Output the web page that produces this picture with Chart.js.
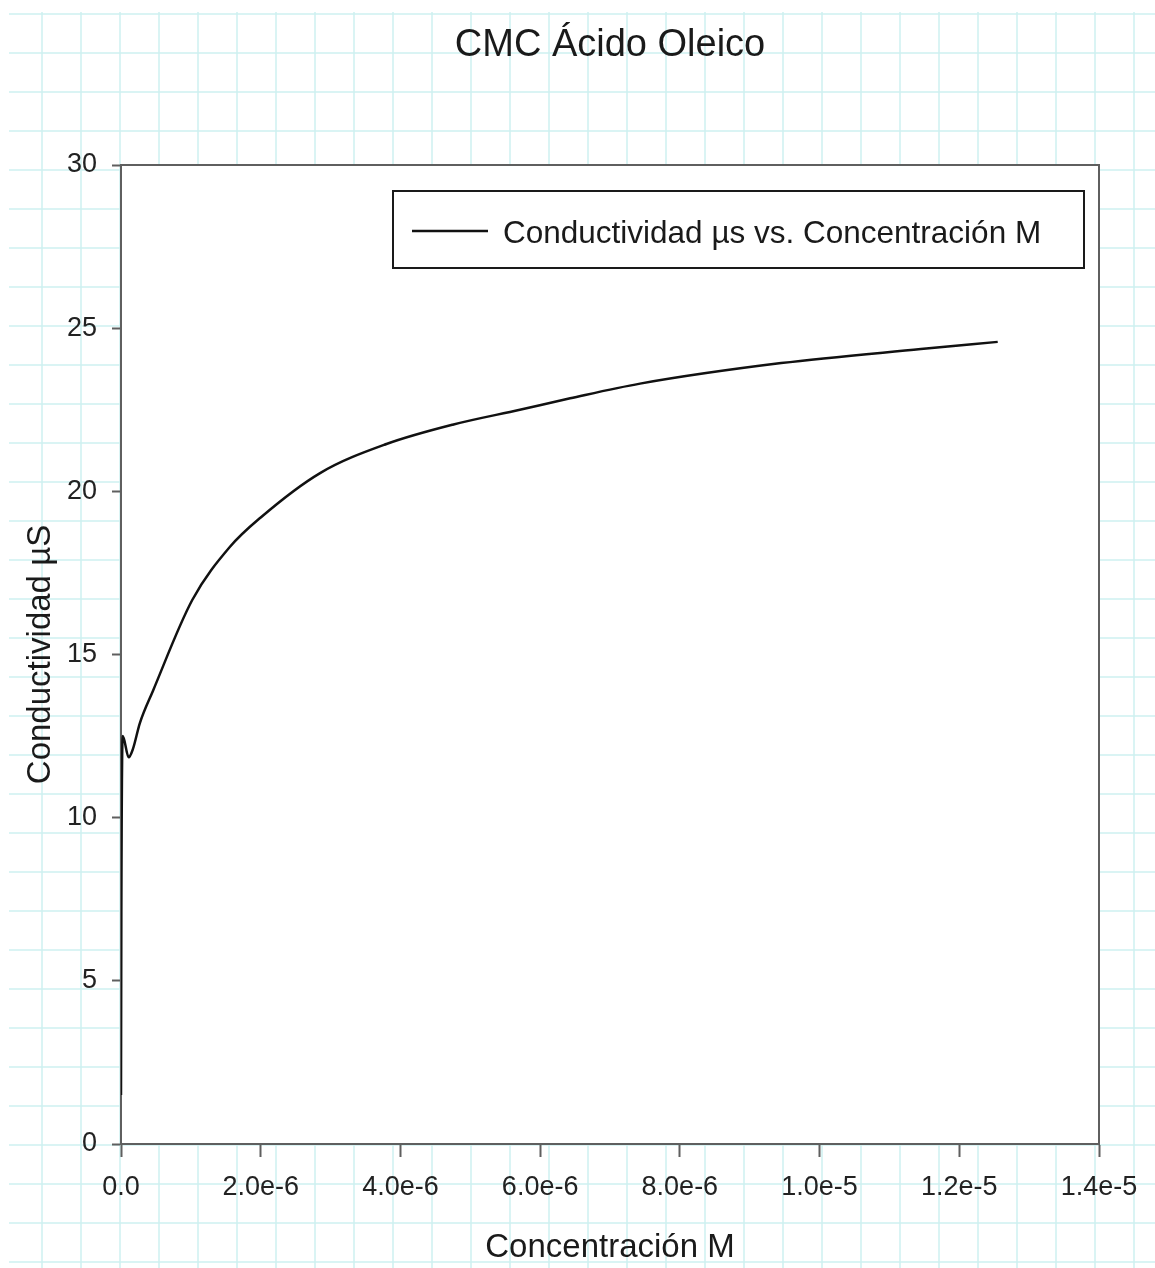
<!DOCTYPE html>
<html>
<head>
<meta charset="utf-8">
<title>CMC Ácido Oleico</title>
<script src="https://cdn.jsdelivr.net/npm/chart.js@4.4.1/dist/chart.umd.min.js"></script>
<style>
    body { margin: 0; background: #ffffff; }
    canvas { display: block; }
</style>
</head>
<body>
<canvas id="cmcChart" width="1155" height="1268"></canvas>
<script>
// Values (concentration in M, conductivity in µS)
const concentration = [
    0, 0.5e-8, 2.5e-8, 1.1e-7, 1.7e-7, 2.7e-7, 4.6e-7, 1.02e-6, 1.56e-6,
    2.0e-6, 2.85e-6, 3.8e-6, 4.76e-6, 5.71e-6, 6.43e-6, 7.43e-6, 9.45e-6,
    1.145e-5, 1.255e-5
];
const conductivity = [
    1.5, 7.1, 12.5, 11.85, 12.1, 12.9, 13.9, 16.67, 18.3,
    19.2, 20.56, 21.45, 22.05, 22.5, 22.85, 23.3, 23.93,
    24.36, 24.58
];

const chartTitle = 'CMC Ácido Oleico';
const seriesLabel = 'Conductividad µs vs. Concentración M';
const xTitle = 'Concentración M';
const yTitle = 'Conductividad µS';

const xMin = 0, xMax = 1.4e-5, xStep = 2e-6;
const yMin = 0, yMax = 30, yStep = 5;

const points = concentration.map((c, i) => ({ x: c, y: conductivity[i] }));

const FONT = "'Liberation Sans', Arial, sans-serif";
const AXIS_COLOR = '#5f5f5f';
const TEXT_COLOR = '#1a1a1a';

// graph paper behind everything, plot area in white, title over the plot
const paperPlugin = {
    id: 'paper',
    beforeDraw(chart) {
        const ctx = chart.ctx;
        const w = chart.width, h = chart.height;
        ctx.save();
        ctx.fillStyle = '#ffffff';
        ctx.fillRect(0, 0, w, h);
        ctx.strokeStyle = 'rgba(165, 228, 228, 0.55)';
        ctx.lineWidth = 1.5;
        ctx.beginPath();
        for (let x = 42; x < w; x += 39) {
            ctx.moveTo(x, 12);
            ctx.lineTo(x, h);
        }
        for (let y = 14; y < h; y += 39) {
            ctx.moveTo(9, y);
            ctx.lineTo(w, y);
        }
        ctx.stroke();
        const a = chart.chartArea;
        ctx.fillStyle = '#ffffff';
        ctx.fillRect(a.left, a.top, a.right - a.left, a.bottom - a.top);

        ctx.fillStyle = TEXT_COLOR;
        ctx.font = '38px ' + FONT;
        ctx.textAlign = 'center';
        ctx.textBaseline = 'middle';
        ctx.fillText(chartTitle, (a.left + a.right) / 2, 46);
        ctx.restore();
    },
    afterDraw(chart) {
        // top and right frame lines
        const ctx = chart.ctx;
        const a = chart.chartArea;
        ctx.save();
        ctx.strokeStyle = AXIS_COLOR;
        ctx.lineWidth = 2;
        ctx.beginPath();
        ctx.moveTo(a.left, a.top);
        ctx.lineTo(a.right, a.top);
        ctx.lineTo(a.right, a.bottom);
        ctx.stroke();
        ctx.restore();
    }
};

// boxed legend inside the plot, top right
const boxLegendPlugin = {
    id: 'boxLegend',
    afterDatasetsDraw(chart) {
        const ctx = chart.ctx;
        const ds = chart.data.datasets[0];
        ctx.save();
        ctx.fillStyle = '#ffffff';
        ctx.fillRect(393, 191, 691, 77);
        ctx.strokeStyle = TEXT_COLOR;
        ctx.lineWidth = 2;
        ctx.strokeRect(393, 191, 691, 77);
        ctx.strokeStyle = ds.borderColor;
        ctx.lineWidth = ds.borderWidth;
        ctx.beginPath();
        ctx.moveTo(412, 231);
        ctx.lineTo(488, 231);
        ctx.stroke();
        ctx.fillStyle = TEXT_COLOR;
        ctx.font = '31.5px ' + FONT;
        ctx.textBaseline = 'middle';
        ctx.fillText(ds.label, 503, 234);
        ctx.restore();
    }
};

function renderChart() {
    const ctx = document.getElementById('cmcChart').getContext('2d');
    new Chart(ctx, {
        type: 'scatter',
        data: {
            datasets: [{
                label: seriesLabel,
                data: points,
                showLine: true,
                borderColor: '#111111',
                borderWidth: 2.5,
                pointRadius: 0,
                cubicInterpolationMode: 'monotone',
                fill: false
            }]
        },
        options: {
            responsive: false,
            animation: false,
            layout: { padding: { left: 0, right: 56, top: 165, bottom: 0 } },
            plugins: {
                legend: { display: false },
                tooltip: { enabled: false },
                title: { display: false }
            },
            scales: {
                x: {
                    type: 'linear',
                    min: xMin,
                    max: xMax,
                    afterFit: (scale) => { scale.height = 124; },
                    ticks: {
                        stepSize: xStep,
                        padding: 14,
                        color: '#222222',
                        font: { family: FONT, size: 27 },
                        maxRotation: 0,
                        callback: (v) => v === 0 ? '0.0' : Number(v).toExponential(1)
                    },
                    grid: {
                        drawOnChartArea: false,
                        drawTicks: true,
                        tickLength: 13,
                        tickWidth: 2,
                        tickColor: AXIS_COLOR
                    },
                    border: { display: true, color: AXIS_COLOR, width: 2 },
                    title: {
                        display: true,
                        text: xTitle,
                        color: TEXT_COLOR,
                        font: { family: FONT, size: 33 },
                        padding: { top: 0, bottom: 0 }
                    }
                },
                y: {
                    type: 'linear',
                    min: yMin,
                    max: yMax,
                    afterFit: (scale) => { scale.width = 121; },
                    ticks: {
                        stepSize: yStep,
                        padding: 15,
                        color: '#222222',
                        font: { family: FONT, size: 27 }
                    },
                    grid: {
                        drawOnChartArea: false,
                        drawTicks: true,
                        tickLength: 9,
                        tickWidth: 2,
                        tickColor: AXIS_COLOR
                    },
                    border: { display: true, color: AXIS_COLOR, width: 2 },
                    title: {
                        display: true,
                        text: yTitle,
                        color: TEXT_COLOR,
                        font: { family: FONT, size: 33 },
                        padding: { top: 21, bottom: 0 }
                    }
                }
            }
        },
        plugins: [paperPlugin, boxLegendPlugin]
    });
}

window.onload = renderChart;
</script>
</body>
</html>
